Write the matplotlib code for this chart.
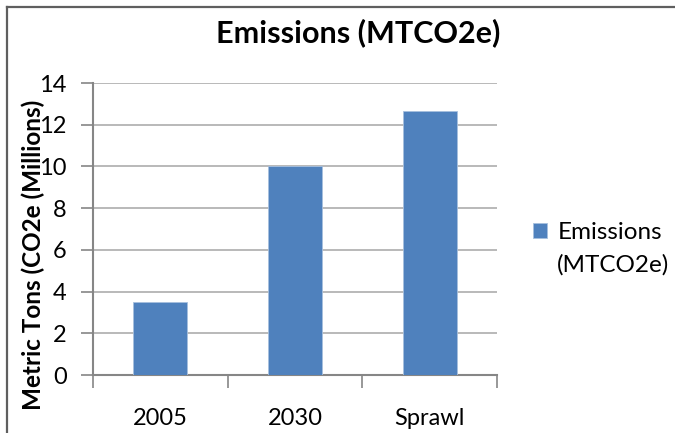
import matplotlib
matplotlib.use('Agg')
import matplotlib.pyplot as plt

categories = ['2005', '2030', 'Sprawl']
emissions = [3.5, 10.0, 12.65]
series_label = 'Emissions'
series_label_2 = '(MTCO2e)'
title = 'Emissions (MTCO2e)'
ylabel = 'Metric Tons (CO2e (Millions)'
yticks = [0, 2, 4, 6, 8, 10, 12, 14]

plt.rcParams['font.family'] = ['Lato', 'DejaVu Sans']

fig = plt.figure(figsize=(6.75, 4.33), dpi=100)
ax = fig.add_axes([93 / 675, 58 / 433, 404 / 675, 292 / 433])

x = list(range(len(categories)))
ax.bar(x, emissions, width=0.4, color='#4F81BD', edgecolor='#A7C0DE', linewidth=0.6,
       label=series_label, zorder=3)

ax.set_xlim(-0.5, len(categories) - 0.5)
ax.set_ylim(0, 14)
ax.set_yticks(yticks)
ax.set_yticklabels([str(v) for v in yticks], fontsize=17)
ax.set_xticks(x)
ax.set_xticklabels(categories, fontsize=17)
ax.set_xticks([i - 0.5 for i in range(len(categories) + 1)], minor=True)

ax.tick_params(axis='x', which='major', length=0, pad=24)
ax.tick_params(axis='x', which='minor', length=9, width=1.2, color='#868686', direction='out')
ax.tick_params(axis='y', which='major', length=9, width=1.2, color='#868686', pad=10)

ax.grid(axis='y', color='#B3B3B3', linewidth=1.3, zorder=0)
for side in ['top', 'right']:
    ax.spines[side].set_visible(False)
for side in ['left', 'bottom']:
    ax.spines[side].set_color('#868686')
    ax.spines[side].set_linewidth(1.5)

fig.text(358 / 675, 1 - 33 / 433, title, ha='center', va='center',
         fontsize=22, fontweight='bold')
fig.text(33 / 675, 1 - 255 / 433, ylabel, ha='center', va='center',
         rotation=90, fontsize=17.5, fontweight='bold')

# legend: marker sits beside the first line, second line wraps below
ax.legend(loc='center left', bbox_to_anchor=(533 / 675, 1 - 233 / 433),
          bbox_transform=fig.transFigure, frameon=False, fontsize=17.5,
          borderpad=0, borderaxespad=0,
          handlelength=0.58, handleheight=0.58, handletextpad=0.45)
fig.text(557 / 675, 1 - 265 / 433, series_label_2, ha='left', va='center',
         fontsize=17.5)

# outer chart border (only top and left are visible in the crop)
fig.add_artist(plt.Line2D([7 / 675, 7 / 675], [0, 1 - 6.5 / 433],
                          transform=fig.transFigure, color='#5F5F5F', linewidth=1.6))
fig.add_artist(plt.Line2D([7 / 675, 1], [1 - 6.5 / 433, 1 - 6.5 / 433],
                          transform=fig.transFigure, color='#5F5F5F', linewidth=1.6))

fig.savefig('out.png', dpi=100)
